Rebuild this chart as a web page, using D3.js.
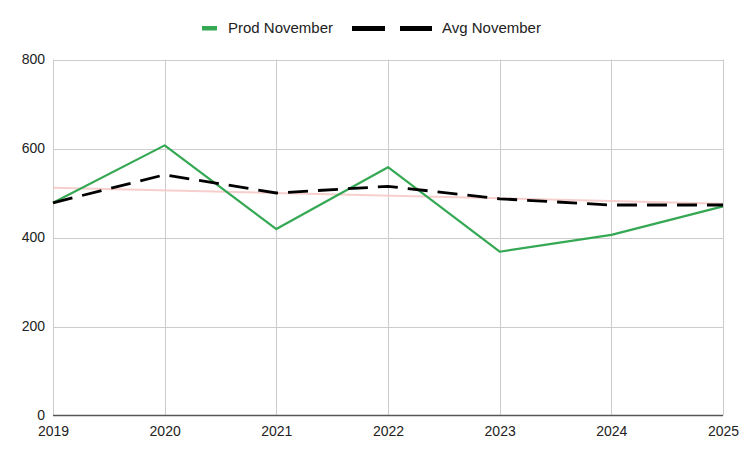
<!DOCTYPE html>
<html>
<head>
<meta charset="utf-8">
<script src="https://cdn.jsdelivr.net/npm/d3@7"></script>
<style>
  body { margin: 0; background: #fff; }
  svg { display: block; font-family: "Liberation Sans", Arial, sans-serif; }
</style>
</head>
<body>
<svg id="chart" width="745" height="460"></svg>
<script>
const years = [2019, 2020, 2021, 2022, 2023, 2024, 2025];
const prodNovember = [478, 607, 419, 558, 368, 406, 470];
const avgNovember = [478, 541, 500, 515, 487, 473, 473];
const trendYears = [2019, 2025];
const trendAvg = [512, 476];
const yTicks = [0, 200, 400, 600, 800];

const svg = d3.select("#chart");
const margin = { left: 53, right: 22, top: 59.5, bottom: 44.5 };
const W = 745, H = 460;

const x = d3.scaleLinear().domain([2019, 2025]).range([margin.left, W - margin.right]);
const y = d3.scaleLinear().domain([0, 800]).range([H - margin.bottom, margin.top]);

// gridlines
svg.append("g").selectAll("line.h").data(yTicks.filter(d => d > 0)).join("line")
  .attr("x1", x(2019)).attr("x2", x(2025))
  .attr("y1", d => Math.round(y(d)) + 0.5).attr("y2", d => Math.round(y(d)) + 0.5)
  .attr("stroke", "#cccccc").attr("stroke-width", 1);
svg.append("g").selectAll("line.v").data(years).join("line")
  .attr("x1", d => Math.round(x(d)) + 0.5).attr("x2", d => Math.round(x(d)) + 0.5)
  .attr("y1", y(800)).attr("y2", y(0))
  .attr("stroke", "#cccccc").attr("stroke-width", 1);

// y axis labels
const yAxis = d3.axisLeft(y).tickValues(yTicks).tickSize(0).tickPadding(8).tickFormat(d3.format("d"));
const gy = svg.append("g").attr("transform", `translate(${margin.left},0)`).call(yAxis);
gy.select(".domain").remove();
gy.selectAll("text").attr("font-size", 14).attr("fill", "#222").attr("font-family", "Liberation Sans, Arial, sans-serif");

// x axis labels
const xAxis = d3.axisBottom(x).tickValues(years).tickSize(0).tickPadding(10.5).tickFormat(d3.format("d"));
const gx = svg.append("g").attr("transform", `translate(0,${y(0)})`).call(xAxis);
gx.select(".domain").remove();
gx.selectAll("text").attr("font-size", 14).attr("fill", "#222").attr("font-family", "Liberation Sans, Arial, sans-serif");

// baseline
svg.append("line")
  .attr("x1", x(2019)).attr("x2", x(2025))
  .attr("y1", y(0)).attr("y2", y(0))
  .attr("stroke", "#555").attr("stroke-width", 1.4);

// trendline
svg.append("path")
  .datum(trendYears.map((yr, i) => [yr, trendAvg[i]]))
  .attr("d", d3.line().x(d => x(d[0])).y(d => y(d[1])))
  .attr("fill", "none").attr("stroke", "#f4c7c3").attr("stroke-width", 2).attr("opacity", 0.85);

const line = d3.line().x((d, i) => x(years[i])).y(d => y(d));

svg.append("path").datum(prodNovember)
  .attr("d", line)
  .attr("fill", "none").attr("stroke", "#34a853").attr("stroke-width", 2.2)
  .attr("stroke-linejoin", "round");

svg.append("path").datum(avgNovember)
  .attr("d", line)
  .attr("fill", "none").attr("stroke", "#000").attr("stroke-width", 2.8)
  .attr("stroke-dasharray", "20,10");

// legend
const lg = svg.append("g").attr("font-size", 15).attr("fill", "#222");
lg.append("rect").attr("x", 202).attr("y", 26).attr("width", 15).attr("height", 4.5).attr("fill", "#34a853");
lg.append("text").attr("x", 228).attr("y", 33).text("Prod November");
lg.append("line").attr("x1", 352).attr("x2", 432).attr("y1", 28.5).attr("y2", 28.5)
  .attr("stroke", "#000").attr("stroke-width", 5).attr("stroke-dasharray", "33,15");
lg.append("text").attr("x", 442).attr("y", 33).text("Avg November");
</script>
</body>
</html>
